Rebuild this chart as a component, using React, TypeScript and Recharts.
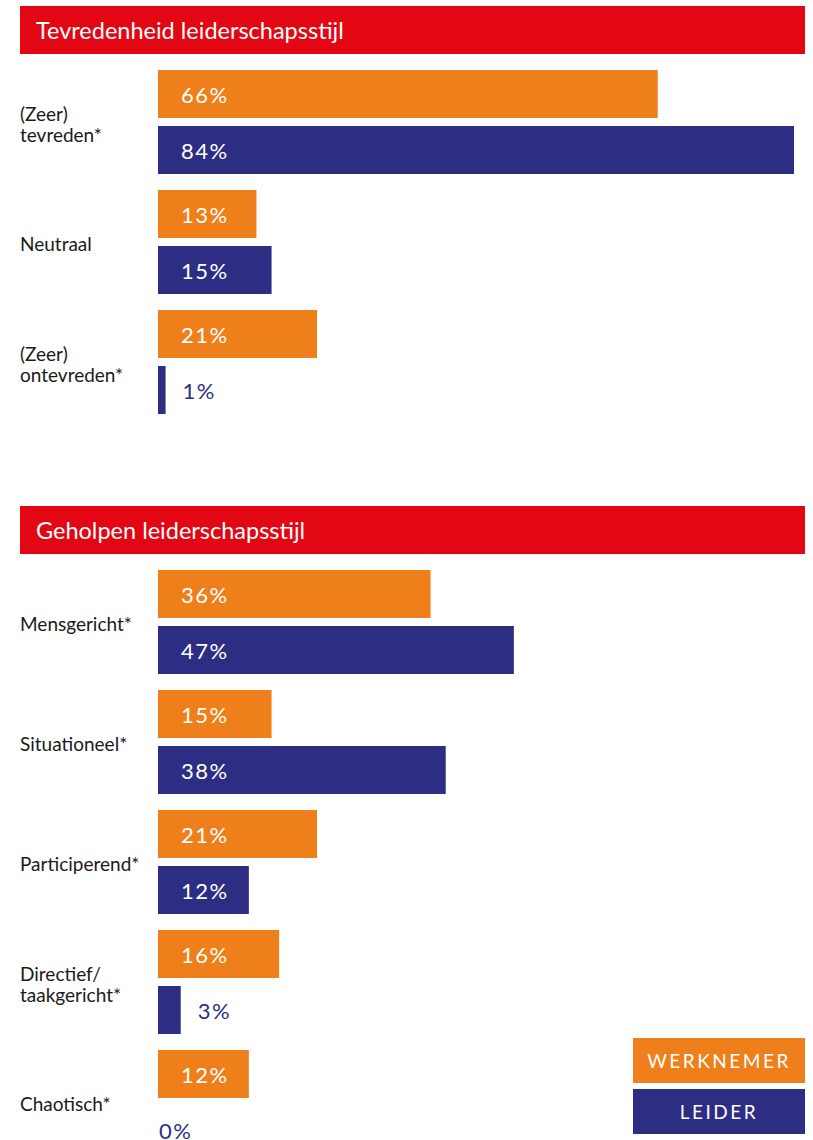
import React from 'react';
import { BarChart, Bar, XAxis, YAxis, LabelList } from 'recharts';

const tevredenCategories = ['(Zeer)\ntevreden*', 'Neutraal', '(Zeer)\nontevreden*'];
const tevredenWerknemer = [66, 13, 21];
const tevredenLeider = [84, 15, 1];

const stijlCategories = ['Mensgericht*', 'Situationeel*', 'Participerend*', 'Directief/\ntaakgericht*', 'Chaotisch*'];
const stijlWerknemer = [36, 15, 21, 16, 12];
const stijlLeider = [47, 38, 12, 3, 0];

const RED = '#e30613';
const ORANGE = '#ef7f1a';
const BLUE = '#2d2e83';
const FONT = 'Lato, "Open Sans", sans-serif';

const tevredenData = tevredenCategories.map((name, i) => ({
  name,
  werknemer: tevredenWerknemer[i],
  leider: tevredenLeider[i],
}));

const stijlData = stijlCategories.map((name, i) => ({
  name,
  werknemer: stijlWerknemer[i],
  leider: stijlLeider[i],
}));

// category labels sit at the left edge, one <text> per line
const CategoryTick = (props: any) => {
  const { y, payload } = props;
  const lines = String(payload.value).split('\n');
  return (
    <g>
      {lines.map((line, i) => (
        <text
          key={i}
          x={20}
          y={y + 8.5 - (lines.length - 1) * 10 + i * 21}
          textAnchor="start"
          fontSize={19}
          fill="#1a1a1a"
          fontFamily={FONT}
        >
          {line}
        </text>
      ))}
    </g>
  );
};

// white inside the bar, blue next to it for the tiny ones
const valueLabel = (props: any) => {
  const { x, y, width, height, value } = props;
  const small = value < 5;
  let tx = x + 23;
  if (small) tx = value === 0 ? x + 1 : x + width + 17;
  return (
    <text
      x={tx}
      y={y + height / 2 + 8.5}
      fontSize={22}
      letterSpacing={1.5}
      fill={small ? BLUE : '#ffffff'}
      fontFamily={FONT}
    >
      {`${value}%`}
    </text>
  );
};

const Header = ({ title, top }: { title: string; top: number }) => (
  <div
    style={{
      position: 'absolute',
      left: 20,
      top,
      width: 785,
      height: 48,
      background: RED,
      color: '#fff',
      fontSize: 23.5,
      lineHeight: '48px',
      paddingLeft: 16,
      boxSizing: 'border-box',
    }}
  >
    {title}
  </div>
);

const Chart = ({ data, height, top, marginTop }: { data: any[]; height: number; top: number; marginTop: number }) => (
  <div style={{ position: 'absolute', left: 0, top }}>
    <BarChart
      width={813}
      height={height}
      data={data}
      layout="vertical"
      margin={{ top: marginTop, right: 19, bottom: height - marginTop - data.length * 120, left: 0 }}
      barGap={8}
    >
      <XAxis type="number" domain={[0, 84]} hide />
      <YAxis type="category" dataKey="name" width={158} axisLine={false} tickLine={false} tick={<CategoryTick />} />
      <Bar dataKey="werknemer" fill={ORANGE} barSize={48} minPointSize={0.01} isAnimationActive={false}>
        <LabelList dataKey="werknemer" content={valueLabel} />
      </Bar>
      <Bar dataKey="leider" fill={BLUE} barSize={48} minPointSize={0.01} isAnimationActive={false}>
        <LabelList dataKey="leider" content={valueLabel} />
      </Bar>
    </BarChart>
  </div>
);

const legendItems = [
  { label: 'WERKNEMER', color: ORANGE },
  { label: 'LEIDER', color: BLUE },
];

export default function App() {
  return (
    <div
      style={{
        position: 'absolute',
        left: 0,
        top: 0,
        width: 813,
        height: 1140,
        overflow: 'hidden',
        background: '#fff',
        fontFamily: FONT,
      }}
    >
      <Header title="Tevredenheid leiderschapsstijl" top={6} />
      <Chart data={tevredenData} height={440} top={0} marginTop={62} />
      <Header title="Geholpen leiderschapsstijl" top={506} />
      <Chart data={stijlData} height={672} top={490} marginTop={72} />
      <div style={{ position: 'absolute', left: 633, top: 1038 }}>
        {legendItems.map((item) => (
          <div
            key={item.label}
            style={{
              width: 172,
              height: 45,
              marginBottom: 6,
              background: item.color,
              color: '#fff',
              fontSize: 19,
              letterSpacing: 2.5,
              lineHeight: '45px',
              textAlign: 'center',
            }}
          >
            {item.label}
          </div>
        ))}
      </div>
    </div>
  );
}
